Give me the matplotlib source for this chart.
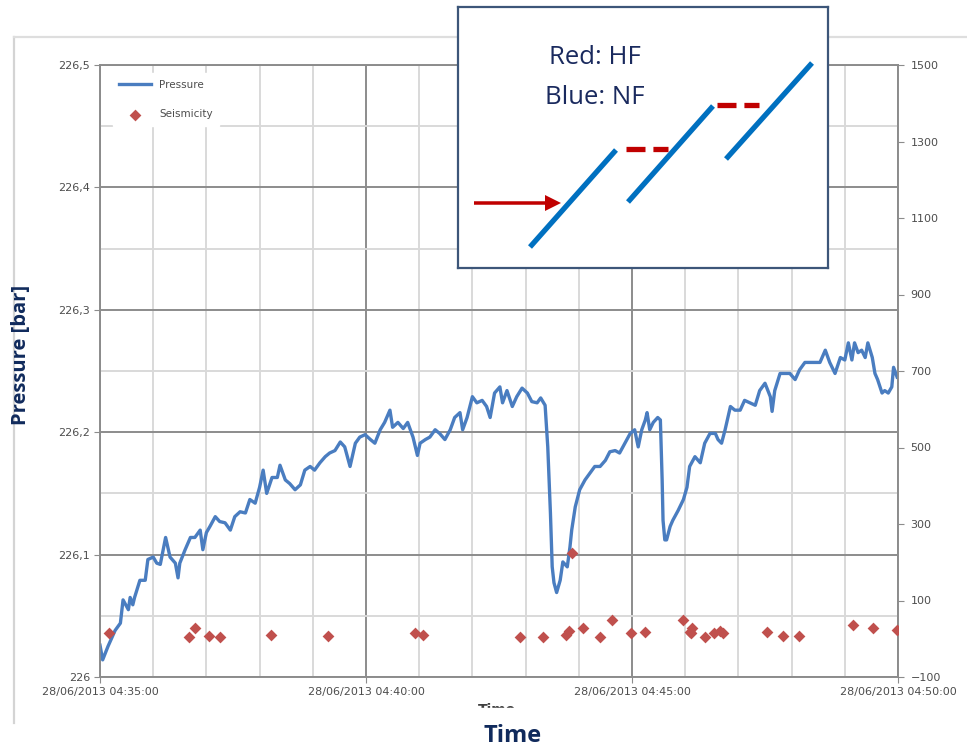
import numpy as np
import matplotlib
matplotlib.use('Agg')
import matplotlib.pyplot as plt
import matplotlib.dates as mdates
from matplotlib.ticker import MultipleLocator, FixedLocator, FuncFormatter
from datetime import datetime, timedelta

# Pressure record (seconds after 04:35:00, bar)
pres_sec = [0, 3, 9, 17, 23, 26, 32, 34, 37, 39, 45, 51, 54, 60, 64, 68, 74, 79, 85, 88,
            90, 96, 102, 107, 113, 116, 120, 124, 130, 135, 141, 147, 152, 158, 164, 169,
            175, 180, 184, 188, 194, 200, 203, 209, 214, 220, 226, 231, 237, 242, 248, 254,
            259, 265, 271, 276, 282, 288, 293, 299, 305, 310, 316, 321, 327, 330, 336, 342,
            347, 353, 358, 361, 367, 372, 378, 383, 389, 395, 400, 406, 409, 414, 420, 425,
            431, 436, 440, 445, 451, 454, 459, 465, 470, 476, 482, 487, 493, 497, 502, 505,
            508, 510, 512, 515, 519, 522, 527, 530, 532, 536, 541, 547, 553, 558, 564, 570,
            575, 581, 586, 592, 598, 603, 607, 611, 615, 617, 620, 624, 629, 632, 634, 635,
            637, 639, 643, 646, 652, 658, 662, 665, 671, 677, 682, 688, 694, 697, 701, 705,
            711, 716, 722, 727, 733, 739, 744, 750, 756, 758, 761, 767, 773, 778, 784, 789,
            795, 801, 806, 812, 818, 823, 829, 835, 840, 844, 848, 851, 855, 859, 863, 866,
            871, 874, 877, 882, 885, 889, 893, 895, 899]
pres_bar = [226.026, 226.014, 226.025, 226.038, 226.044, 226.063, 226.055, 226.065, 226.059,
            226.065, 226.079, 226.079, 226.096, 226.098, 226.093, 226.092, 226.114, 226.098,
            226.093, 226.081, 226.093, 226.104, 226.114, 226.114, 226.120, 226.104, 226.118,
            226.123, 226.131, 226.127, 226.126, 226.120, 226.131, 226.135, 226.134, 226.145,
            226.142, 226.155, 226.169, 226.150, 226.163, 226.163, 226.173, 226.161, 226.158,
            226.153, 226.157, 226.169, 226.172, 226.169, 226.175, 226.180, 226.183, 226.185,
            226.192, 226.188, 226.172, 226.191, 226.196, 226.198, 226.194, 226.191, 226.202,
            226.208, 226.218, 226.204, 226.208, 226.203, 226.208, 226.196, 226.181, 226.191,
            226.194, 226.196, 226.202, 226.199, 226.194, 226.202, 226.212, 226.216, 226.202,
            226.212, 226.229, 226.224, 226.226, 226.221, 226.212, 226.232, 226.237, 226.224,
            226.234, 226.221, 226.229, 226.236, 226.232, 226.225, 226.224, 226.228, 226.222,
            226.188, 226.134, 226.090, 226.077, 226.069, 226.079, 226.094, 226.090, 226.106,
            226.120, 226.139, 226.153, 226.161, 226.167, 226.172, 226.172, 226.177, 226.184,
            226.185, 226.183, 226.191, 226.199, 226.202, 226.188, 226.202, 226.210, 226.216,
            226.202, 226.208, 226.212, 226.210, 226.161, 226.128, 226.112, 226.112, 226.123,
            226.128, 226.136, 226.145, 226.155, 226.172, 226.180, 226.175, 226.191, 226.199,
            226.199, 226.194, 226.191, 226.202, 226.221, 226.218, 226.218, 226.226, 226.224,
            226.222, 226.234, 226.240, 226.229, 226.217, 226.234, 226.248, 226.248, 226.248,
            226.243, 226.251, 226.257, 226.257, 226.257, 226.257, 226.267, 226.257, 226.248,
            226.261, 226.259, 226.273, 226.259, 226.273, 226.265, 226.267, 226.261, 226.273,
            226.261, 226.248, 226.243, 226.232, 226.234, 226.232, 226.237, 226.253, 226.245]

# Seismic events (seconds after 04:35:00, right-axis value)
seis_sec = [10, 100, 107, 123, 135, 193, 257, 355, 364, 474, 500, 526, 529, 532, 545, 564,
            577, 599, 615, 658, 665, 667, 668, 682, 693, 699, 703, 752, 770, 788, 849, 872, 899]
seis_val = [15, 5, 28, 7, 5, 10, 7, 15, 10, 5, 5, 10, 20, 224, 28, 5,
            49, 15, 18, 49, 18, 15, 28, 5, 15, 20, 15, 18, 7, 7, 36, 28, 23]

left_ticks = [226.0, 226.1, 226.2, 226.3, 226.4, 226.5]
right_ticks = [-100, 100, 300, 500, 700, 900, 1100, 1300, 1500]

t0 = datetime(2013, 6, 28, 4, 35, 0)
t_end = datetime(2013, 6, 28, 4, 50, 0)
pres_t = [t0 + timedelta(seconds=s) for s in pres_sec]
seis_t = [t0 + timedelta(seconds=s) for s in seis_sec]

W, H = 967, 747
fig = plt.figure(figsize=(W / 100, H / 100), dpi=100)
fig.patch.set_facecolor('white')

def fx(px):
    return px / W

def fy(py):
    return 1 - py / H

ax = fig.add_axes([fx(100), fy(677), fx(898) - fx(100), fy(65) - fy(677)])
ax2 = ax.twinx()

tick_col = '#4d4d4d'
tick_family = 'DejaVu Sans'
tick_size = 8

ax.plot(pres_t, pres_bar, color='#4a7dc0', lw=2.4, zorder=3)
ax2.scatter(seis_t, seis_val, marker='D', s=36, color='#c0504d', zorder=4,
            linewidths=0)

ax.set_xlim(t0, t_end)
ax.set_ylim(226.0, 226.5)
ax2.set_ylim(-100, 1500)

ax.xaxis.set_major_locator(mdates.MinuteLocator(byminute=range(0, 60, 5)))
ax.xaxis.set_minor_locator(mdates.MinuteLocator())
ax.xaxis.set_major_formatter(mdates.DateFormatter('%d/%m/%Y %H:%M:%S'))

ax.yaxis.set_major_locator(FixedLocator(left_ticks))
ax.yaxis.set_minor_locator(MultipleLocator(0.05))
ax.yaxis.set_major_formatter(FuncFormatter(
    lambda v, p: str(int(round(v))) if abs(v - round(v)) < 1e-6 else f'{v:.1f}'.replace('.', ',')))
ax2.yaxis.set_major_locator(FixedLocator(right_ticks))

ax.grid(which='major', axis='both', color='#8c8c8c', lw=1.4)
ax.grid(which='minor', axis='both', color='#d9d9d9', lw=1.4)
ax.set_axisbelow(True)

for a in (ax, ax2):
    for sp in a.spines.values():
        sp.set_color('#8c8c8c')
        sp.set_linewidth(1.2)
ax.tick_params(which='major', length=4, color='#8c8c8c', labelcolor=tick_col, pad=3)
ax.tick_params(which='minor', length=0)
ax2.tick_params(which='major', length=4, color='#8c8c8c', labelcolor=tick_col, pad=5)
for lab in ax.get_xticklabels() + ax.get_yticklabels() + ax2.get_yticklabels():
    lab.set_fontfamily(tick_family)
    lab.set_fontsize(tick_size)

# legend (no frame, white background)
h1, = ax.plot([], [], color='#4a7dc0', lw=2.4, label='Pressure')
h2 = ax2.scatter([], [], marker='D', s=36, color='#c0504d', linewidths=0, label='Seismicity')
leg = ax2.legend(handles=[h1, h2], loc='upper left', bbox_to_anchor=(0.01, 0.995),
                 frameon=True, fancybox=False, framealpha=1, edgecolor='white',
                 facecolor='white', handlelength=3.0, labelspacing=1.9,
                 prop=dict(family=tick_family, size=7.5), borderpad=0.6)
for t in leg.get_texts():
    t.set_color(tick_col)

# axis titles
navy = '#102a5c'
fig.text(fx(21), fy(355), 'Pressure [bar]', rotation=90, ha='center', va='center',
         fontsize=14.5, fontweight='bold', color=navy, family='Open Sans')
fig.text(fx(513), fy(736), 'Time', ha='center', va='center',
         fontsize=17, fontweight='bold', color=navy, family='Open Sans')
# clipped duplicate axis title peeking out under the axis labels
fig.text(fx(497), fy(710), 'Time', ha='center', va='center',
         fontsize=10, fontweight='bold', color='#404040', family='DejaVu Sans')
fig.add_artist(plt.Rectangle((fx(470), fy(722)), fx(60), fy(708) - fy(722),
                             transform=fig.transFigure, color='white', zorder=20))

# outer chart border
fig.add_artist(plt.Line2D([fx(14), fx(14)], [fy(37), fy(723)], color='#d4d4d4', lw=1.6))
fig.add_artist(plt.Line2D([fx(14), fx(967)], [fy(37), fy(37)], color='#dedede', lw=1.6))

# schematic inset
bx0, by0, bx1, by1 = 458, 7, 828, 268
ins = fig.add_axes([fx(bx0), fy(by1), fx(bx1) - fx(bx0), fy(by0) - fy(by1)])
ins.set_zorder(10)
ins.set_facecolor('white')
ins.set_xlim(0, bx1 - bx0)
ins.set_ylim(by1 - by0, 0)
ins.set_xticks([])
ins.set_yticks([])
for sp in ins.spines.values():
    sp.set_color('#3d5679')
    sp.set_linewidth(1.6)

blue_seg = [((72, 240), (158, 143)), ((170, 195), (255, 99)), ((268, 152), (354, 56))]
for (xa, ya), (xb, yb) in blue_seg:
    ins.plot([xa, xb], [ya, yb], color='#0070c0', lw=3.8, solid_capstyle='butt')
for xa, xb, yy in [(168, 210, 142), (259, 301, 98)]:
    ins.plot([xa, xb], [yy, yy], color='#c00000', lw=3.8, dashes=(3.6, 1.5),
             dash_capstyle='butt')
ins.arrow(16, 196, 87, 0, width=3.5, head_width=16, head_length=16,
          length_includes_head=True, color='#c00000', lw=0)
ins.text(137, 50, 'Red: HF', ha='center', va='center', fontsize=18.5,
         color='#1a2a5e', family='Open Sans')
ins.text(137, 90, 'Blue: NF', ha='center', va='center', fontsize=18.5,
         color='#1a2a5e', family='Open Sans')

fig.savefig('out.png', dpi=100, facecolor='white')
